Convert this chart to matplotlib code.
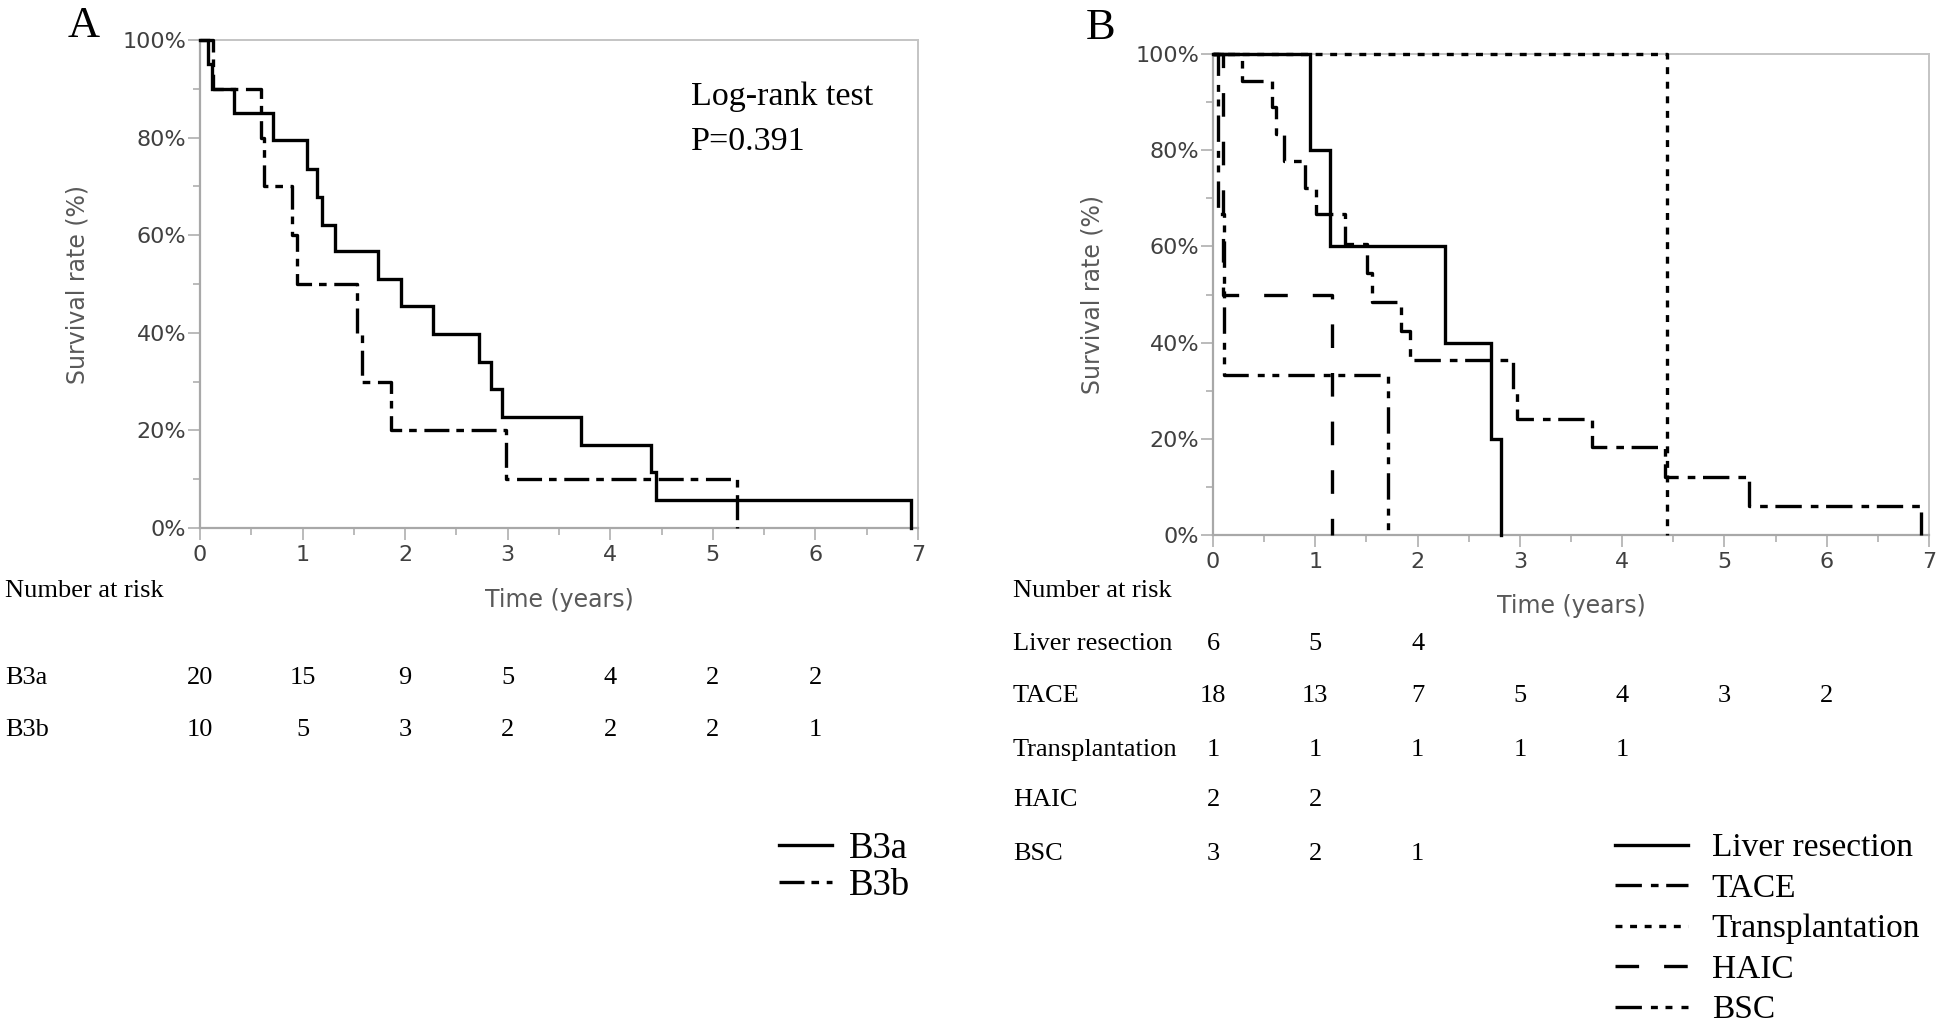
import matplotlib
matplotlib.use("Agg")
import matplotlib.pyplot as plt
import matplotlib.transforms as mtransforms
from matplotlib.lines import Line2D
from matplotlib.ticker import MultipleLocator, PercentFormatter

# Panel A: Kaplan-Meier steps (time in years, survival in %)
b3a_time = [0, 0.08, 0.12, 0.33, 0.71, 1.04, 1.14, 1.19, 1.32, 1.74, 1.96,
            2.27, 2.72, 2.84, 2.94, 3.71, 4.40, 4.45, 6.93]
b3a_surv = [100, 95, 90, 85, 79.5, 73.6, 67.9, 62.0, 56.8, 51.1, 45.4,
            39.8, 34.1, 28.4, 22.7, 17.0, 11.4, 5.7, 0]
b3b_time = [0, 0.13, 0.59, 0.62, 0.90, 0.945, 1.53, 1.58, 1.86, 2.98, 5.24]
b3b_surv = [100, 90, 80, 70, 60, 50, 40, 30, 20, 10, 0]

# Panel B
lr_time = [0, 0.95, 1.14, 2.27, 2.72, 2.82]
lr_surv = [100, 80, 60, 40, 20, 0]
tace_time = [0, 0.28, 0.58, 0.62, 0.69, 0.90, 1.01, 1.29, 1.51, 1.55, 1.84,
             1.93, 2.93, 2.97, 3.71, 4.42, 5.24, 6.92]
tace_surv = [100, 94.4, 88.9, 83.3, 77.8, 72.2, 66.7, 60.6, 54.5, 48.5, 42.4,
             36.4, 30.3, 24.2, 18.2, 12.1, 6.1, 0]
trans_time = [0, 4.44]
trans_surv = [100, 0]
haic_time = [0, 0.10, 1.16]
haic_surv = [100, 50, 0]
bsc_time = [0, 0.05, 0.11, 1.71]
bsc_surv = [100, 66.7, 33.3, 0]

# Number at risk (years 0..6)
risk_years = [0, 1, 2, 3, 4, 5, 6]
risk_a = {"B3a": [20, 15, 9, 5, 4, 2, 2],
          "B3b": [10, 5, 3, 2, 2, 2, 1]}
risk_b = {"Liver resection": [6, 5, 4],
          "TACE": [18, 13, 7, 5, 4, 3, 2],
          "Transplantation": [1, 1, 1, 1, 1],
          "HAIC": [2, 2],
          "BSC": [3, 2, 1]}

# Line styles (dash lengths in points)
plt.rcParams["lines.scale_dashes"] = False
LW = 2.4
STYLE_SOLID = "-"
STYLE_DASHDOT = (0, (18, 5, 5.5, 5.5))
STYLE_TACE = (0, (19, 6.5, 5.5, 5.5))
STYLE_DOT = (0, (5, 5.5))
STYLE_HAIC = (0, (17, 18))
STYLE_BSC = (0, (19, 6.5, 5, 5.5, 5, 6.5))

SERIF = "Liberation Serif"
SANS = "DejaVu Sans"
SPINE = "#a8a8a8"
FRAME = "#c4c4c4"
TABLE_FS = 19

W, H = 1946, 1025
fig = plt.figure(figsize=(W / 100, H / 100), dpi=100)


def add_axes_px(left, top, right, bottom):
    return fig.add_axes([left / W, 1 - bottom / H, (right - left) / W, (bottom - top) / H])


def style_axes(ax, ylabel_x):
    ax.set_xlim(0, 7)
    ax.set_ylim(0, 100)
    ax.xaxis.set_major_locator(MultipleLocator(1))
    ax.xaxis.set_minor_locator(MultipleLocator(0.5))
    ax.yaxis.set_major_locator(MultipleLocator(20))
    ax.yaxis.set_minor_locator(MultipleLocator(10))
    ax.yaxis.set_major_formatter(PercentFormatter(xmax=100, decimals=0))
    ax.tick_params(which="major", direction="out", length=8.5, width=1.1,
                   color=SPINE, labelcolor="#404040", labelsize=16)
    ax.tick_params(which="minor", direction="out", length=5, width=1.1, color=SPINE)
    ax.tick_params(axis="y", pad=1.5)
    ax.tick_params(axis="x", pad=4)
    for s in ("left", "bottom"):
        ax.spines[s].set_color(SPINE)
        ax.spines[s].set_linewidth(1.6)
    for s in ("top", "right"):
        ax.spines[s].set_color(FRAME)
        ax.spines[s].set_linewidth(1.4)
    ax.set_xlabel("Time (years)", fontsize=17, color="#595959", family=SANS)
    ax.set_ylabel("Survival rate (%)", fontsize=17, color="#595959", family=SANS)
    ax.xaxis.label.set_va("center")
    ax.xaxis.set_label_coords(0.5, -0.148)
    ax.yaxis.set_label_coords(ylabel_x, 0.5)


def km(ax, t, s, ls):
    ax.step(t, s, where="post", color="black", lw=LW, linestyle=ls,
            clip_on=False, solid_joinstyle="miter", zorder=3)


def risk_table(ax, rows, header_y, row_ys, label_x):
    tr = mtransforms.blended_transform_factory(ax.transData, fig.transFigure)
    fig.text(label_x / W, 1 - header_y / H, "Number at risk", family=SERIF,
             fontsize=TABLE_FS, va="center", ha="left")
    for (name, counts), y in zip(rows.items(), row_ys):
        fig.text(label_x / W, 1 - y / H, name, family=SERIF, fontsize=TABLE_FS,
                 va="center", ha="left")
        for yr, n in zip(risk_years, counts):
            ax.text(yr, 1 - y / H, str(n), transform=tr, family=SERIF,
                    fontsize=TABLE_FS, va="center", ha="center")


# ---- Panel A ----
axA = add_axes_px(200, 40, 918, 528)
km(axA, b3a_time, b3a_surv, STYLE_SOLID)
km(axA, b3b_time, b3b_surv, STYLE_DASHDOT)
style_axes(axA, -0.154)
axA.text(0.684, 0.883, "Log-rank test", transform=axA.transAxes, family=SERIF,
         fontsize=24.5, va="center", ha="left")
axA.text(0.684, 0.792, "P=0.391", transform=axA.transAxes, family=SERIF,
         fontsize=24.5, va="center", ha="left")
fig.text(68 / W, 1 - 26 / H, "A", family=SERIF, fontsize=32, va="center", ha="left")
risk_table(axA, risk_a, 591, [678, 730], 5)

legA = [Line2D([], [], color="black", lw=LW, linestyle=STYLE_SOLID),
        Line2D([], [], color="black", lw=LW, linestyle=STYLE_DASHDOT)]
fig.legend(legA, list(risk_a.keys()), loc="upper left",
           bbox_to_anchor=(779 / W, 1 - 831 / H), frameon=False,
           prop={"family": SERIF, "size": 26.5}, handlelength=1.45,
           handletextpad=0.45, labelspacing=0.08, borderpad=0, borderaxespad=0)

# ---- Panel B ----
axB = add_axes_px(1213, 54, 1929, 535)
km(axB, trans_time, trans_surv, STYLE_DOT)
km(axB, haic_time, haic_surv, STYLE_HAIC)
km(axB, bsc_time, bsc_surv, STYLE_BSC)
km(axB, tace_time, tace_surv, STYLE_TACE)
km(axB, lr_time, lr_surv, STYLE_SOLID)
style_axes(axB, -0.151)
fig.text(1086 / W, 1 - 28 / H, "B", family=SERIF, fontsize=32, va="center", ha="left")
risk_table(axB, risk_b, 591, [644, 696, 750, 800, 854], 1013)

legB = [Line2D([], [], color="black", lw=LW, linestyle=st)
        for st in (STYLE_SOLID, STYLE_TACE, STYLE_DOT, STYLE_HAIC, STYLE_BSC)]
fig.legend(legB, list(risk_b.keys()), loc="upper left",
           bbox_to_anchor=(1615 / W, 1 - 833 / H), frameon=False,
           prop={"family": SERIF, "size": 24}, handlelength=2.2,
           handletextpad=0.7, labelspacing=0.3, borderpad=0, borderaxespad=0)

fig.savefig("out.png", dpi=100, facecolor="white")
